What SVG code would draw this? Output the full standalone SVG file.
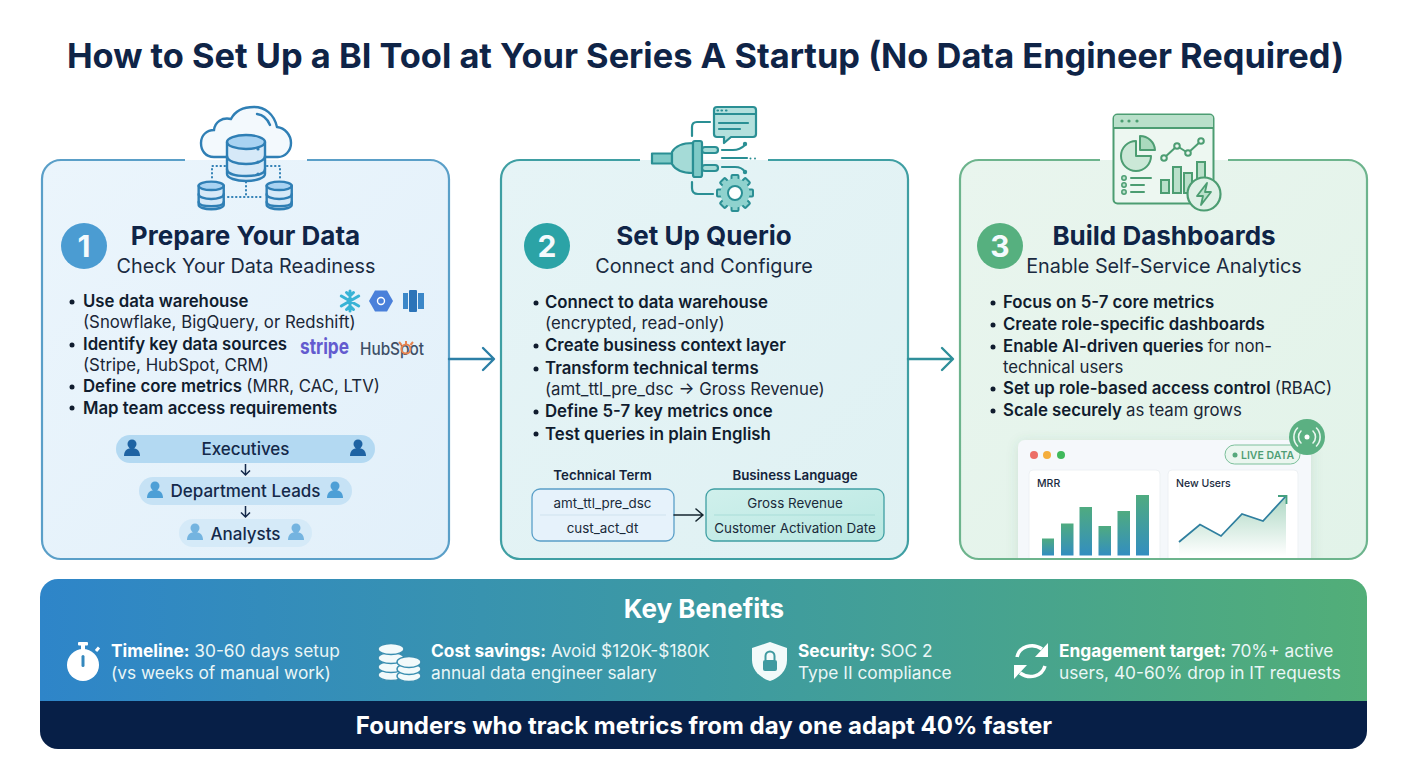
<svg xmlns="http://www.w3.org/2000/svg" xmlns:xlink="http://www.w3.org/1999/xlink" width="1408" height="768" viewBox="0 0 1408 768">
<style>
text{font-family:Inter,"Liberation Sans",sans-serif}
.ttl{font-size:34.4px;font-weight:700;fill:#0f2447;text-anchor:middle}
.h{font-size:26px;font-weight:700;fill:#0f2447;text-anchor:middle}
.sub{font-size:19.8px;font-weight:400;fill:#1a2a40;text-anchor:middle}
.b{font-size:16.8px;font-weight:600;fill:#101c2e}
.r{font-weight:400;fill:#1a2636}
.num{font-size:30px;font-weight:700;fill:#f4fafd;text-anchor:middle}
.pl{font-size:17px;font-weight:500;fill:#14294a;text-anchor:middle}
.th{font-size:13.3px;font-weight:600;fill:#14233a;text-anchor:middle}
.td{font-size:13.4px;font-weight:400;fill:#1a2a3a;text-anchor:middle}
.bt{font-size:17.3px;font-weight:400;fill:#eaf6f6}
.bt tspan{font-weight:700;fill:#fff}
.conn{fill:none;stroke-linecap:round;stroke-linejoin:round}
.ic1{fill:none;stroke:#2f7fb5;stroke-width:2.4;stroke-linecap:round;stroke-linejoin:round;vector-effect:non-scaling-stroke}
.ic2{fill:none;stroke:#2a8f94;stroke-width:2.2;stroke-linecap:round;stroke-linejoin:round}
.ic3{fill:none;stroke:#4c9d72;stroke-width:2;stroke-linecap:round;stroke-linejoin:round}
.dot{fill:#101c2e}
</style>
<defs>
<linearGradient id="g1" x1="0" y1="0" x2="1" y2="1"><stop offset="0" stop-color="#ebf5fc"/><stop offset="1" stop-color="#e2f0fa"/></linearGradient>
<linearGradient id="g2" x1="0" y1="0" x2="1" y2="1"><stop offset="0" stop-color="#e6f4f6"/><stop offset="1" stop-color="#dff1f3"/></linearGradient>
<linearGradient id="g3" x1="0" y1="0" x2="1" y2="1"><stop offset="0" stop-color="#e9f5ee"/><stop offset="1" stop-color="#e2f3e9"/></linearGradient>
<linearGradient id="ban" x1="0" y1="0" x2="1" y2="0"><stop offset="0" stop-color="#2e85c9"/><stop offset="0.5" stop-color="#3d9aa2"/><stop offset="1" stop-color="#52ae78"/></linearGradient>
<linearGradient id="bar" x1="0" y1="0" x2="0" y2="1"><stop offset="0" stop-color="#4fab80"/><stop offset="1" stop-color="#338ec0"/></linearGradient>
<linearGradient id="area" x1="0" y1="0" x2="0" y2="1"><stop offset="0" stop-color="#5bb088" stop-opacity=".5"/><stop offset="1" stop-color="#5bb088" stop-opacity="0"/></linearGradient>
<linearGradient id="tr" x1="0" y1="0" x2="1" y2="1"><stop offset="0" stop-color="#d0f0ec"/><stop offset="1" stop-color="#b9e8e2"/></linearGradient>
<clipPath id="clip3"><rect x="960" y="160" width="407" height="398" rx="19"/></clipPath>
<filter id="sh" x="-10%" y="-10%" width="120%" height="120%"><feDropShadow dx="0" dy="2" stdDeviation="6" flood-color="#3c7a5c" flood-opacity=".16"/></filter>
<g id="db"><path d="M1 8V40C1 44 10 47 20 47S39 44 39 40V8Z" fill="#d6e9f8"/><ellipse cx="20" cy="8" rx="19" ry="7" fill="#a9d3f2"/><path d="M1 8V40C1 44 10 47 20 47S39 44 39 40V8" class="ic1"/><ellipse cx="20" cy="8" rx="19" ry="7" class="ic1"/><path d="M1 22C1 27 10 30 20 30S39 27 39 22M1 35C1 40 10 42 20 42S39 40 39 35" class="ic1"/></g>
<g id="p"><circle cx="0" cy="-5" r="4.5"/><path d="M-8 7C-8 1-4-1 0-1S8 1 8 7Z"/></g>
</defs>
<rect width="1408" height="768" fill="#fff"/>
<text id="title" class="ttl" x="705.500" y="68">How to Set Up a BI Tool at Your Series A Startup (No Data Engineer Required)</text>

<g id="node-1">
<rect x="42" y="160" width="407" height="399" rx="19" fill="url(#g1)"/>
<path d="M185 160H61A19 19 0 0 0 42 179V540A19 19 0 0 0 61 559H430A19 19 0 0 0 449 540V179A19 19 0 0 0 430 160H307" fill="none" stroke="#5a9fc8" stroke-width="2.2"/>
<path d="M226 157H214C205 157 201 150 201 143C201 135 207 130 214 130C215 122 222 117 231 119C235 111 244 107 254 107C265 107 274 114 277 127C285 128 291 135 291 143C291 151 285 157 278 157H266" fill="#f3f9fd" stroke="#2f7fb5" stroke-width="2.4" stroke-linecap="round"/>
<path d="M257 114C264 115 268 120 270 125" class="ic1"/>
<path d="M225 166H212V178M267 166H280V178M246 182V197M228 197H264" class="ic1" style="stroke-width:2;stroke-dasharray:.5 3.5"/>
<use xlink:href="#db" href="#db" transform="translate(226 134)"/>
<use xlink:href="#db" href="#db" transform="translate(198 181) scale(.66 .6)"/>
<use xlink:href="#db" href="#db" transform="translate(266 181) scale(.66 .6)"/>
<g fill="#2f7fb5"><circle cx="258" cy="149" r="1.6"/><circle cx="258" cy="162" r="1.6"/><circle cx="258" cy="174" r="1.6"/></g>
<circle cx="84" cy="246" r="23" fill="#4b9cd2"/>
<text class="num" x="84" y="257">1</text>
<text class="h" x="245.500" y="245">Prepare Your Data</text>
<text class="sub" x="246" y="273">Check Your Data Readiness</text>
<g class="dot"><circle cx="72" cy="302" r="2.500"/><circle cx="72" cy="345" r="2.500"/><circle cx="72" cy="387" r="2.500"/><circle cx="72" cy="408" r="2.500"/></g>
<text class="b" x="83" y="307">Use data warehouse</text>
<text class="b r" x="83" y="328">(Snowflake, BigQuery, or Redshift)</text>
<text class="b" x="83" y="350">Identify key data sources</text>
<text class="b r" x="83" y="371">(Stripe, HubSpot, CRM)</text>
<text class="b" x="83" y="392">Define core metrics <tspan class="r">(MRR, CAC, LTV)</tspan></text>
<text class="b" x="83" y="414">Map team access requirements</text>
<g stroke="#38b3d6" stroke-width="3" stroke-linecap="round" fill="none"><path d="M350 291V311M341.300 296L358.700 306M341.300 306L358.700 296M346.500 292.500L350 296L353.500 292.500M346.500 309.500L350 306L353.500 309.500"/></g>
<path d="M369 301L375 290.500H387L393 301L387 311.500H375Z" fill="#4a80da"/><circle cx="381" cy="301" r="3.500" fill="none" stroke="#fff" stroke-width="1.400"/>
<g fill="#2c74b8"><rect x="403" y="293" width="5" height="16" fill="#3b87c8"/><rect x="409" y="290" width="8" height="22" rx="1"/><rect x="418" y="293" width="6" height="16" fill="#3b87c8"/></g>
<text x="300" y="354" font-size="22" font-weight="700" fill="#635bcf" textLength="49" lengthAdjust="spacingAndGlyphs">stripe</text>
<text x="360" y="355" font-size="17" font-weight="500" fill="#3d4f66" textLength="64" lengthAdjust="spacingAndGlyphs">HubSpot</text>
<g fill="none" stroke="#e8834f" stroke-width="2"><circle cx="406" cy="349" r="4.500"/><path d="M406 344V341M401.500 345L399 342M410.500 345L413 342"/></g>
<rect x="116" y="435" width="259" height="28" rx="14" fill="#b3d9f2"/>
<rect x="139" y="477" width="213" height="28" rx="14" fill="#c6e2f5"/>
<rect x="179" y="519" width="133" height="28" rx="14" fill="#d5eaf8"/>
<text class="pl" x="245.500" y="455">Executives</text>
<text class="pl" x="245.500" y="497">Department Leads</text>
<text class="pl" x="245.500" y="540">Analysts</text>
<g fill="#1e63a3"><use xlink:href="#p" href="#p" x="132" y="449"/><use xlink:href="#p" href="#p" x="358" y="449"/></g>
<g fill="#4d9fd6"><use xlink:href="#p" href="#p" x="155" y="491"/><use xlink:href="#p" href="#p" x="335" y="491"/></g>
<g fill="#74b4e0"><use xlink:href="#p" href="#p" x="195" y="533"/><use xlink:href="#p" href="#p" x="296" y="533"/></g>
<path d="M245.500 464V475M241 470.500L245.500 475L250 470.500M245.500 506V517M241 512.500L245.500 517L250 512.500" fill="none" stroke="#14294a" stroke-width="1.500"/>
</g>

<g id="node-2">
<rect x="501" y="160" width="407" height="399" rx="19" fill="url(#g2)"/>
<path d="M640 160H520A19 19 0 0 0 501 179V540A19 19 0 0 0 520 559H889A19 19 0 0 0 908 540V179A19 19 0 0 0 889 160H768" fill="none" stroke="#3f9fa3" stroke-width="2.200"/>
<path d="M714 110Q714 107 717 107H753Q756 107 756 110V134Q756 137 753 137H731L724 143V137H717Q714 137 714 134Z" class="ic2" style="fill:#b3e0dd"/>
<path d="M714 114H756M717.500 110.500H718M721.500 110.500H722M726 110.500H726.500M719 123H748M719 129H740" class="ic2" stroke-width="1.800"/>
<path d="M710 122H697Q692 122 692 127V136M692 182V188Q692 194 698 194H713" class="ic2"/>
<path d="M652 153.500H672V163.500H652Z" class="ic2" style="fill:#7fcac7"/>
<path d="M672 152Q677 143 693 143V173Q677 173 672 164Z" style="fill:#a5dbd7" class="ic2"/>
<rect x="693" y="141" width="9" height="36" rx="2" class="ic2" style="fill:#7fcac7"/>
<rect x="702" y="147" width="16" height="6" rx="3" class="ic2" style="fill:#a5dbd7"/>
<rect x="702" y="165" width="16" height="6" rx="3" class="ic2" style="fill:#a5dbd7"/>
<path d="M722 150H733Q740 150 745 145M722 158H747M722 167H735Q742 167 745 172" class="ic2"/>
<g fill="#2a8f94"><circle cx="745" cy="144" r="2.200"/><circle cx="745" cy="172" r="2.200"/><circle cx="750.500" cy="158.500" r="1"/><circle cx="755" cy="158.500" r="1"/></g>
<g id="gear" transform="translate(735 193)"><g fill="#8fd2ce" stroke="#2a8f94" stroke-width="2"><rect x="-3.500" y="-18" width="7" height="36" rx="1"/><rect x="-3.500" y="-18" width="7" height="36" rx="1" transform="rotate(45)"/><rect x="-3.500" y="-18" width="7" height="36" rx="1" transform="rotate(90)"/><rect x="-3.500" y="-18" width="7" height="36" rx="1" transform="rotate(135)"/></g><circle r="14.500" fill="#8fd2ce"/><circle r="7" fill="#fff" stroke="#2a8f94" stroke-width="2"/></g>
<circle cx="547" cy="246" r="23" fill="#2ba3a6"/>
<text class="num" x="547" y="257">2</text>
<text class="h" x="704" y="245">Set Up Querio</text>
<text class="sub" x="704" y="273">Connect and Configure</text>
<g class="dot"><circle cx="536" cy="303" r="2.500"/><circle cx="536" cy="346" r="2.500"/><circle cx="536" cy="369" r="2.500"/><circle cx="536" cy="412" r="2.500"/><circle cx="536" cy="434" r="2.500"/></g>
<text class="b" x="545" y="308">Connect to data warehouse</text>
<text class="b r" x="545" y="329">(encrypted, read-only)</text>
<text class="b" x="545" y="351">Create business context layer</text>
<text class="b" x="545" y="374">Transform technical terms</text>
<text class="b r" x="545" y="395">(amt_ttl_pre_dsc → Gross Revenue)</text>
<text class="b" x="545" y="417">Define 5-7 key metrics once</text>
<text class="b" x="545" y="440">Test queries in plain English</text>
<text class="th" x="602.500" y="480">Technical Term</text>
<text class="th" x="795" y="480">Business Language</text>
<rect x="532" y="489" width="142" height="52" rx="8" fill="#e6f2fb" stroke="#5a9fc8" stroke-width="1.300"/>
<rect x="706" y="489" width="178" height="52" rx="8" fill="url(#tr)" stroke="#3f9fa3" stroke-width="1.300"/>
<path d="M540 515H666" stroke="#cfe2ee" stroke-width="1"/><path d="M714 515H875" stroke="#a9ddd8" stroke-width="1"/>
<text class="td" x="602.500" y="508">amt_ttl_pre_dsc</text>
<text class="td" x="602.500" y="533">cust_act_dt</text>
<text class="td" x="795" y="508">Gross Revenue</text>
<text class="td" x="795" y="533">Customer Activation Date</text>
</g>

<g id="node-3">
<rect x="960" y="160" width="407" height="399" rx="19" fill="url(#g3)"/>
<path d="M1100 160H979A19 19 0 0 0 960 179V540A19 19 0 0 0 979 559H1348A19 19 0 0 0 1367 540V179A19 19 0 0 0 1348 160H1228" fill="none" stroke="#6db48d" stroke-width="2.200"/>
<rect x="1113.500" y="114.500" width="100" height="89" rx="4" fill="#edf7f1" stroke="#4c9d72" stroke-width="2"/>
<path d="M1114 128V118Q1114 115 1117 115H1210Q1213 115 1213 118V128Z" fill="#b9e0ca"/><path d="M1114 128H1213" class="ic3"/>
<g fill="#4c9d72"><circle cx="1122" cy="121" r="1.600"/><circle cx="1129" cy="121" r="1.600"/><circle cx="1137" cy="121" r="1.600"/></g>
<path d="M1136 141A15 15 0 1 0 1151 156H1136Z" class="ic3" style="fill:#cbe8d7"/>
<path d="M1140 136A15 15 0 0 1 1155 150H1140Z" class="ic3" style="fill:#a9d9bd"/>
<path d="M1164 158L1177 146L1188 153L1201 141" class="ic3"/>
<g fill="#edf7f1" stroke="#4c9d72" stroke-width="2"><circle cx="1164" cy="158" r="2.800"/><circle cx="1177" cy="146" r="2.800"/><circle cx="1188" cy="153" r="2.800"/><circle cx="1201" cy="141" r="2.800"/></g>
<g fill="#b9e0ca" stroke="#4c9d72" stroke-width="2"><rect x="1161" y="180" width="8" height="13"/><rect x="1173" y="167" width="8" height="26"/><rect x="1184" y="173" width="8" height="20"/><rect x="1197" y="162" width="8" height="31"/></g>
<g fill="#b9e0ca" stroke="#4c9d72" stroke-width="1.500"><circle cx="1124" cy="178" r="2.200"/><circle cx="1124" cy="185" r="2.200"/><circle cx="1124" cy="192" r="2.200"/></g>
<path d="M1131 178H1151M1131 185H1144M1131 192H1144" class="ic3"/>
<circle cx="1204" cy="194" r="16.500" fill="#dff1e7" stroke="#4c9d72" stroke-width="2.200"/>
<path d="M1207 183L1197 196H1203L1201 205L1211 192H1205Z" fill="#b9e0ca" stroke="#4c9d72" stroke-width="1.800" stroke-linejoin="round"/>
<circle cx="1000" cy="246" r="23" fill="#56b07f"/>
<text class="num" x="1000" y="257">3</text>
<text class="h" x="1164" y="245">Build Dashboards</text>
<text class="sub" x="1164" y="273">Enable Self-Service Analytics</text>
<g class="dot"><circle cx="993" cy="303" r="2.500"/><circle cx="993" cy="325" r="2.500"/><circle cx="993" cy="347" r="2.500"/><circle cx="993" cy="389" r="2.500"/><circle cx="993" cy="411" r="2.500"/></g>
<text class="b" x="1003" y="308">Focus on 5-7 core metrics</text>
<text class="b" x="1003" y="330">Create role-specific dashboards</text>
<text class="b" x="1003" y="352">Enable AI-driven queries <tspan class="r">for non-</tspan></text>
<text class="b r" x="1003" y="373">technical users</text>
<text class="b" x="1003" y="394">Set up role-based access control <tspan class="r">(RBAC)</tspan></text>
<text class="b" x="1003" y="416">Scale securely <tspan class="r">as team grows</tspan></text>
<g clip-path="url(#clip3)">
<rect x="1018" y="440" width="293" height="130" rx="7" fill="#f5f8fb" filter="url(#sh)"/>
<circle cx="1034" cy="455" r="4" fill="#ec6e66"/><circle cx="1047" cy="455" r="4" fill="#f4ae3d"/><circle cx="1061" cy="455" r="4" fill="#3fb95b"/>
<rect x="1029" y="470" width="131" height="100" rx="4" fill="#fff" stroke="#edf1f4"/>
<rect x="1168" y="470" width="130" height="100" rx="4" fill="#fff" stroke="#edf1f4"/>
<text x="1037" y="487" font-size="10.500" font-weight="500" fill="#1a2a40">MRR</text>
<text x="1176" y="487" font-size="10.500" font-weight="500" fill="#1a2a40">New Users</text>
<g fill="url(#bar)"><rect x="1042" y="538.500" width="12" height="17"/><rect x="1061" y="523.500" width="12.500" height="32"/><rect x="1079.500" y="507" width="12.500" height="48.500"/><rect x="1098.500" y="526" width="12.500" height="29.500"/><rect x="1117.500" y="511" width="12.500" height="44.500"/><rect x="1136" y="495" width="13" height="60.500"/></g>
<path d="M1179 542L1200 524.500L1221 536L1242 514L1263 521L1286 496V556H1179Z" fill="url(#area)"/>
<path d="M1179 542L1200 524.500L1221 536L1242 514L1263 521L1286 496" fill="none" stroke="#2f7f9f" stroke-width="1.800"/>
<path d="M1278 496H1286.500V504" fill="none" stroke="#45a07f" stroke-width="1.800"/>
</g>
<rect x="1225" y="445" width="75" height="19" rx="9.500" fill="#eaf6ef" stroke="#7cc09b" stroke-width="1"/>
<circle cx="1235" cy="455" r="2.500" fill="#56a87c"/>
<text x="1241" y="459" font-size="10.500" font-weight="600" fill="#4f9e75">LIVE DATA</text>
<circle cx="1307" cy="437" r="18" fill="#5bb082"/>
<circle cx="1307" cy="437" r="2.500" fill="#fff"/>
<path d="M1301 431A8.500 8.500 0 0 0 1301 443M1313 431A8.500 8.500 0 0 1 1313 443M1297.500 428A13 13 0 0 0 1297.500 446M1316.500 428A13 13 0 0 1 1316.500 446" fill="none" stroke="#eaf7f0" stroke-width="1.600" stroke-linecap="round"/>
</g>

<g id="connectors" class="conn">
<path d="M449 359H493M483 348L494 359L483 370" stroke="#2c7fa6" stroke-width="2.400"/>
<path d="M908 359H952M942 348L953 359L942 370" stroke="#2f8f9a" stroke-width="2.400"/>
<path d="M674 515H702M696 509L703 515L696 521" stroke="#16262f" stroke-width="1.600"/>
</g>

<g id="node-benefits">
<path d="M58 579H1349A18 18 0 0 1 1367 597V701H40V597A18 18 0 0 1 58 579Z" fill="url(#ban)"/>
<path d="M40 701H1367V731A18 18 0 0 1 1349 749H58A18 18 0 0 1 40 731Z" fill="#071f47"/>
<text x="704" y="618" font-size="26" font-weight="700" fill="#fff" text-anchor="middle">Key Benefits</text>
<g id="ic-stopwatch" fill="#fff"><circle cx="83" cy="665" r="16"/><rect x="78" y="642" width="10" height="3.500" rx="1"/><rect x="81" y="645" width="4" height="6"/><path d="M96 651L99 647.500" stroke="#fff" stroke-width="3"/><rect x="81.500" y="655" width="3" height="12" rx="1.500" fill="#3488bd"/></g>
<text class="bt" x="111" y="657"><tspan>Timeline:</tspan> 30-60 days setup</text>
<text class="bt" x="111" y="679">(vs weeks of manual work)</text>
<g id="ic-coins" fill="#f2fafb" stroke="#398eb0" stroke-width="1.400"><ellipse cx="391" cy="675" rx="13" ry="5.500"/><ellipse cx="391" cy="667" rx="13" ry="5.500"/><ellipse cx="391" cy="658" rx="13" ry="5.500"/><ellipse cx="391" cy="649" rx="13" ry="5.500"/><ellipse cx="409" cy="676" rx="12" ry="5.500"/><ellipse cx="409" cy="669" rx="12" ry="5.500"/><ellipse cx="409" cy="662" rx="12" ry="5.500"/></g>
<text class="bt" x="431" y="657"><tspan>Cost savings:</tspan> Avoid $120K-$180K</text>
<text class="bt" x="431" y="679">annual data engineer salary</text>
<g id="ic-shield"><path d="M770 642L787 648V660C787 671 779 678 770 681C761 678 752 671 752 660V648Z" fill="#f2fafa"/><rect x="763" y="660" width="14" height="11" rx="2" fill="#3f9aa0"/><path d="M765.500 660V656A4.500 4.500 0 0 1 774.500 656V660" fill="none" stroke="#3f9aa0" stroke-width="2"/></g>
<text class="bt" x="798" y="657"><tspan>Security:</tspan> SOC 2</text>
<text class="bt" x="798" y="679">Type II compliance</text>
<g id="ic-refresh"><path d="M1017 657C1019 647 1032 642 1042 649M1045 666C1042 676 1030 680 1020 673" fill="none" stroke="#fff" stroke-width="3.500"/><path d="M1048 643V657H1035ZM1014 679V665H1027Z" fill="#fff"/></g>
<text class="bt" x="1059" y="657"><tspan>Engagement target:</tspan> 70%+ active</text>
<text class="bt" x="1059" y="679">users, 40-60% drop in IT requests</text>
<text x="704" y="734" font-size="24" font-weight="700" fill="#fff" text-anchor="middle">Founders who track metrics from day one adapt 40% faster</text>
</g>
</svg>
